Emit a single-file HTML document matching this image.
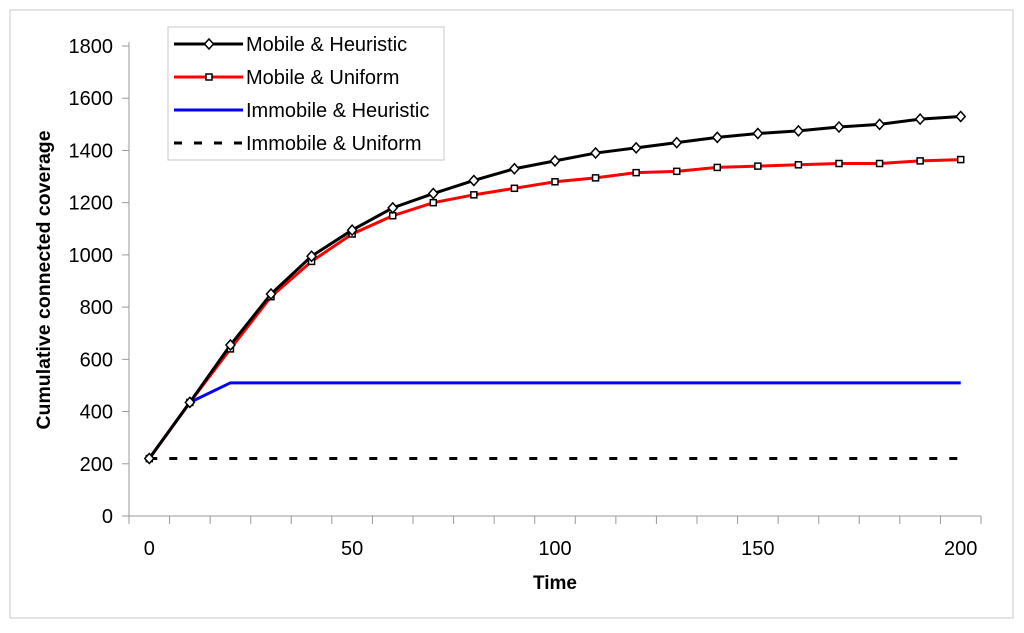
<!DOCTYPE html>
<html><head><meta charset="utf-8"><style>
body{margin:0;background:#fff;font-family:"Liberation Sans",Arial,sans-serif}
</style></head><body>
<svg id="chart" width="1024" height="628" xmlns="http://www.w3.org/2000/svg" font-family="Liberation Sans, Arial, sans-serif">
<rect x="10" y="10" width="1003" height="608" fill="#fff" stroke="#c8c8c8" stroke-width="1"/>
<g id="axes"></g>
<g id="series"></g>
<text x="555" y="589" font-size="19" font-weight="bold" text-anchor="middle">Time</text>
<text transform="translate(50,280) rotate(-90)" font-size="19.5" font-weight="bold" text-anchor="middle">Cumulative connected coverage</text>
<g>
<rect x="168" y="27" width="276" height="133" fill="#fff" stroke="#c8c8c8"/>
<g><line x1="174" y1="44" x2="243" y2="44" stroke="#000" stroke-width="3"/><path d="M209 39 L213.5 44 L209 49 L204.5 44 Z" fill="#fff" stroke="#000" stroke-width="1.5"/><text x="246" y="51" font-size="20">Mobile &amp; Heuristic</text></g>
<g><line x1="174" y1="77" x2="243" y2="77" stroke="#f00" stroke-width="3"/><rect x="206" y="74" width="6" height="6" fill="#fff" stroke="#000" stroke-width="1.5"/><text x="246" y="84" font-size="20">Mobile &amp; Uniform</text></g>
<g><line x1="174" y1="110" x2="243" y2="110" stroke="#00f" stroke-width="3"/><text x="246" y="117" font-size="20">Immobile &amp; Heuristic</text></g>
<g><line x1="174" y1="143" x2="243" y2="143" stroke="#000" stroke-width="3" stroke-dasharray="8,12"/><text x="246" y="150" font-size="20">Immobile &amp; Uniform</text></g>
</g>
</svg>
<script>
const categories=[0,10,20,30,40,50,60,70,80,90,100,110,120,130,140,150,160,170,180,190,200];
const mobileHeuristic=[220,435,655,850,995,1095,1180,1235,1285,1330,1360,1390,1410,1430,1450,1465,1475,1490,1500,1520,1530];
const mobileUniform=[220,435,640,840,975,1080,1150,1200,1230,1255,1280,1295,1315,1320,1335,1340,1345,1350,1350,1360,1365];
const immobileHeuristic=[220,435,510,510,510,510,510,510,510,510,510,510,510,510,510,510,510,510,510,510,510];
const immobileUniform=[220,220,220,220,220,220,220,220,220,220,220,220,220,220,220,220,220,220,220,220,220];
const yTicks=[0,200,400,600,800,1000,1200,1400,1600,1800];
const xLabels=[0,50,100,150,200];
const NS='http://www.w3.org/2000/svg';
const X0=129,X1=981,Y0=516,Y1=46,YMAX=1800;
const bw=(X1-X0)/categories.length;
function xs(i){return X0+bw*(i+0.5);}
function ys(v){return Y0-(v/YMAX)*(Y0-Y1);}
function mk(t,a,p){const e=document.createElementNS(NS,t);for(const k in a)e.setAttribute(k,a[k]);p.appendChild(e);return e;}
const axes=document.getElementById('axes'),ser=document.getElementById('series');
const ya=mk('line',{x1:X0,y1:Y1-4,x2:X0,y2:Y0,stroke:'#999'},axes);


const xa=mk('line',{x1:X0,y1:Y0,x2:X1,y2:Y0,stroke:'#999'},axes);


yTicks.forEach(v=>{mk('line',{x1:X0-7,y1:ys(v),x2:X0,y2:ys(v),stroke:'#999'},axes);
const t=mk('text',{x:X0-16,y:ys(v)+7,'font-size':20,'text-anchor':'end'},axes);t.textContent=v;

});
for(let i=0;i<=categories.length;i++)mk('line',{x1:X0+bw*i,y1:Y0,x2:X0+bw*i,y2:Y0+8,stroke:'#999'},axes);
xLabels.forEach(v=>{const i=categories.indexOf(v);const t=mk('text',{x:xs(i),y:555,'font-size':20,'text-anchor':'middle'},axes);t.textContent=v;

});
function line(data,color,name,dash){const p=mk('polyline',{points:data.map((v,i)=>xs(i)+','+ys(v)).join(' '),fill:'none',stroke:color,'stroke-width':3},ser);
if(dash)p.setAttribute('stroke-dasharray',dash);

}
line(immobileUniform,'#000','series-immobile-uniform','8,12');
line(immobileHeuristic,'#00f','series-immobile-heuristic');
line(mobileUniform,'#f00','series-mobile-uniform');
line(mobileHeuristic,'#000','series-mobile-heuristic');
mobileUniform.forEach((v,i)=>{const r=mk('rect',{x:xs(i)-3,y:ys(v)-3,width:6,height:6,fill:'#fff',stroke:'#000','stroke-width':1.5},ser);

});
mobileHeuristic.forEach((v,i)=>{const x=xs(i),y=ys(v);const d=mk('path',{d:`M${x} ${y-5} L${x+4.5} ${y} L${x} ${y+5} L${x-4.5} ${y} Z`,fill:'#fff',stroke:'#000','stroke-width':1.5},ser);

});
</script>
</body></html>
